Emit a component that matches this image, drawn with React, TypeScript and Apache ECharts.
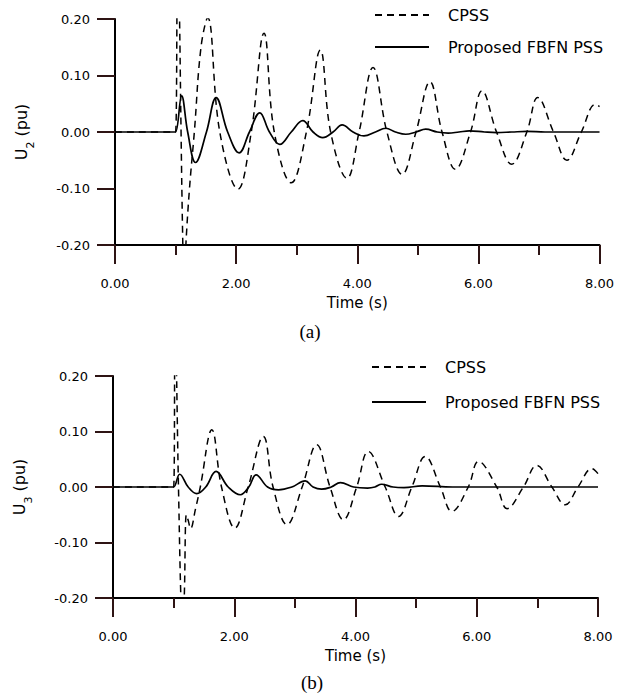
import React, { useEffect, useRef } from "react";
import * as echarts from "echarts";

// time (s), value (pu)
const cpssA: [number, number][] = [
  [0, 0], [0.97, 0], [1.0, 0], [1.035, 0.32], [1.12, -0.2], [1.145, -0.27], [1.17, -0.2],
  [1.23, -0.1], [1.31, 0], [1.42, 0.15], [1.53, 0.202], [1.73, 0], [2.03, -0.101],
  [2.25, 0], [2.46, 0.175], [2.63, 0], [2.91, -0.09], [3.16, 0], [3.39, 0.145],
  [3.56, 0], [3.83, -0.082], [4.03, 0], [4.26, 0.114], [4.49, 0], [4.74, -0.075],
  [4.97, 0], [5.2, 0.089], [5.4, 0], [5.62, -0.066], [5.87, 0], [6.06, 0.073],
  [6.3, 0], [6.55, -0.057], [6.8, 0], [6.98, 0.061], [7.24, 0], [7.46, -0.05],
  [7.7, 0], [7.93, 0.049], [8.0, 0.045],
];

const fbfnA: [number, number][] = [
  [0, 0], [0.97, 0], [1.0, 0], [1.1, 0.064], [1.2, 0], [1.33, -0.054], [1.51, 0],
  [1.67, 0.061], [1.86, 0], [2.05, -0.037], [2.22, 0], [2.39, 0.034], [2.55, 0],
  [2.72, -0.022], [2.91, 0], [3.1, 0.02], [3.27, 0], [3.43, -0.01], [3.6, 0],
  [3.75, 0.0125], [3.93, 0], [4.11, -0.007], [4.3, 0], [4.47, 0.0066], [4.63, 0],
  [4.8, -0.004], [4.97, 0], [5.13, 0.005], [5.32, 0], [5.5, -0.002], [5.68, 0],
  [5.85, 0.002], [6.1, 0], [6.3, -0.001], [6.55, 0], [6.8, 0.001], [7.1, 0], [8, 0],
];

const cpssB: [number, number][] = [
  [0, 0], [0.97, 0], [1.0, 0], [1.025, 0.3], [1.08, 0], [1.125, -0.22], [1.15, -0.25],
  [1.175, -0.2], [1.21, -0.05], [1.24, -0.06], [1.28, -0.075], [1.36, -0.04],
  [1.44, 0], [1.63, 0.103], [1.79, 0], [2.01, -0.074], [2.23, 0], [2.48, 0.091],
  [2.64, 0], [2.87, -0.068], [3.12, 0], [3.36, 0.076], [3.58, 0], [3.8, -0.059],
  [4.02, 0], [4.21, 0.064], [4.49, 0], [4.71, -0.053], [4.93, 0], [5.15, 0.055],
  [5.4, 0], [5.59, -0.044], [5.86, 0], [6.03, 0.046], [6.33, 0], [6.5, -0.039],
  [6.77, 0], [6.99, 0.039], [7.24, 0], [7.46, -0.032], [7.67, 0], [7.9, 0.033],
  [8.0, 0.024],
];

const fbfnB: [number, number][] = [
  [0, 0], [0.97, 0], [1.0, 0], [1.1, 0.023], [1.24, 0], [1.38, -0.012], [1.53, 0],
  [1.7, 0.028], [1.9, 0], [2.1, -0.014], [2.24, 0], [2.36, 0.022], [2.55, 0],
  [2.73, -0.005], [2.95, 0], [3.17, 0.011], [3.3, 0], [3.44, -0.004], [3.6, 0],
  [3.75, 0.008], [3.97, 0], [4.2, -0.002], [4.32, 0], [4.43, 0.005], [4.62, 0],
  [4.8, -0.001], [5.1, 0.002], [5.6, 0], [8, 0],
];

const seriesNames = ["CPSS", "Proposed FBFN PSS"];
const panelLabels = ["(a)", "(b)"];
const yNameSubs = ["2", "3"];
const xName = "Time (s)";

const FONT = "DejaVu Sans";
const BLACK = "#000";
const TICK = "#2e1414";
const X_MIN = 0, X_MAX = 8, X_STEP = 2, Y_MIN = -0.2, Y_MAX = 0.2, Y_STEP = 0.1;

const fmt = (v: number) => (Math.abs(v) < 1e-9 ? 0 : v).toFixed(2);

function makeX(gridIndex: number) {
  return {
    type: "value",
    gridIndex,
    position: "bottom",
    min: X_MIN,
    max: X_MAX,
    interval: X_STEP,
    axisLine: { show: true, onZero: false, lineStyle: { color: BLACK, width: 2 } },
    axisTick: { show: true, inside: false, length: 19, lineStyle: { color: TICK, width: 2 } },
    minorTick: { show: true, splitNumber: 2, length: 10, lineStyle: { color: TICK, width: 2 } },
    splitLine: { show: false },
    minorSplitLine: { show: false },
    axisLabel: {
      show: true,
      formatter: fmt,
      margin: 38,
      verticalAlign: "middle",
      fontFamily: FONT,
      fontSize: 13,
      color: BLACK,
      showMaxLabel: true,
      showMinLabel: true,
    },
    name: xName,
    nameLocation: "middle",
    nameGap: 58,
    nameTextStyle: { fontFamily: FONT, fontSize: 15, color: BLACK, verticalAlign: "middle" },
  };
}

function makeY(gridIndex: number, sub: string) {
  return {
    type: "value",
    gridIndex,
    position: "left",
    min: Y_MIN,
    max: Y_MAX,
    interval: Y_STEP,
    axisLine: { show: true, onZero: false, lineStyle: { color: BLACK, width: 2 } },
    axisTick: { show: true, inside: false, length: 18, lineStyle: { color: TICK, width: 2 } },
    splitLine: { show: false },
    axisLabel: { show: true, formatter: fmt, margin: 25, fontFamily: FONT, fontSize: 13, color: BLACK },
    name: `{u|U}{s|${sub}}{u| (pu)}`,
    nameLocation: "middle",
    nameRotate: 90,
    nameGap: 86,
    nameTextStyle: {
      rich: {
        u: { fontFamily: FONT, fontSize: 16, color: BLACK, lineHeight: 16, verticalAlign: "top" },
        s: { fontFamily: FONT, fontSize: 11, color: BLACK, lineHeight: 11, padding: [12, 0, 0, 0], verticalAlign: "top" },
      },
    },
  };
}

function lineSeries(name: string, idx: number, data: [number, number][], dashed: boolean) {
  return {
    name,
    type: "line",
    xAxisIndex: idx,
    yAxisIndex: idx,
    data,
    symbol: "none",
    showSymbol: false,
    smooth: 0.4,
    clip: true,
    color: BLACK,
    itemStyle: { color: BLACK },
    lineStyle: dashed
      ? { color: BLACK, width: 1.5, type: [7, 5] }
      : { color: BLACK, width: 1.7, type: "solid" },
  };
}

export default function App() {
  const ref = useRef<HTMLDivElement>(null);
  useEffect(() => {
    if (!ref.current) return;
    const chart = echarts.init(ref.current, undefined, { renderer: "svg" });
    const legendBase = {
      orient: "vertical",
      itemWidth: 54,
      itemHeight: 14,
      data: seriesNames,
      itemStyle: { opacity: 0 },
      textStyle: { fontFamily: FONT, fontSize: 16, color: BLACK, padding: [0, 0, 0, 14] },
      selectedMode: false,
    };
    chart.setOption({
      animation: false,
      backgroundColor: "#fff",
      grid: [
        { left: 115, top: 19, width: 486, height: 226 },
        { left: 113, top: 376, width: 485, height: 222 },
      ],
      xAxis: [makeX(0), makeX(1)],
      yAxis: [makeY(0, yNameSubs[0]), makeY(1, yNameSubs[1])],
      legend: [
        { ...legendBase, left: 369, top: 2, itemGap: 16 },
        { ...legendBase, left: 366, top: 354, itemGap: 19 },
      ],
      series: [
        lineSeries(seriesNames[0], 0, cpssA, true),
        lineSeries(seriesNames[1], 0, fbfnA, false),
        lineSeries(seriesNames[0], 1, cpssB, true),
        lineSeries(seriesNames[1], 1, fbfnB, false),
      ],
      graphic: [
        {
          type: "text", x: 310, y: 331,
          style: { text: panelLabels[0], fontFamily: "Liberation Serif", fontSize: 19, fill: BLACK, textAlign: "center", textVerticalAlign: "middle" },
        },
        {
          type: "text", x: 312, y: 682,
          style: { text: panelLabels[1], fontFamily: "Liberation Serif", fontSize: 19, fill: BLACK, textAlign: "center", textVerticalAlign: "middle" },
        },
      ],
    });
    return () => chart.dispose();
  }, []);
  return <div ref={ref} style={{ position: "absolute", left: 0, top: 0, width: 617, height: 694 }} />;
}
